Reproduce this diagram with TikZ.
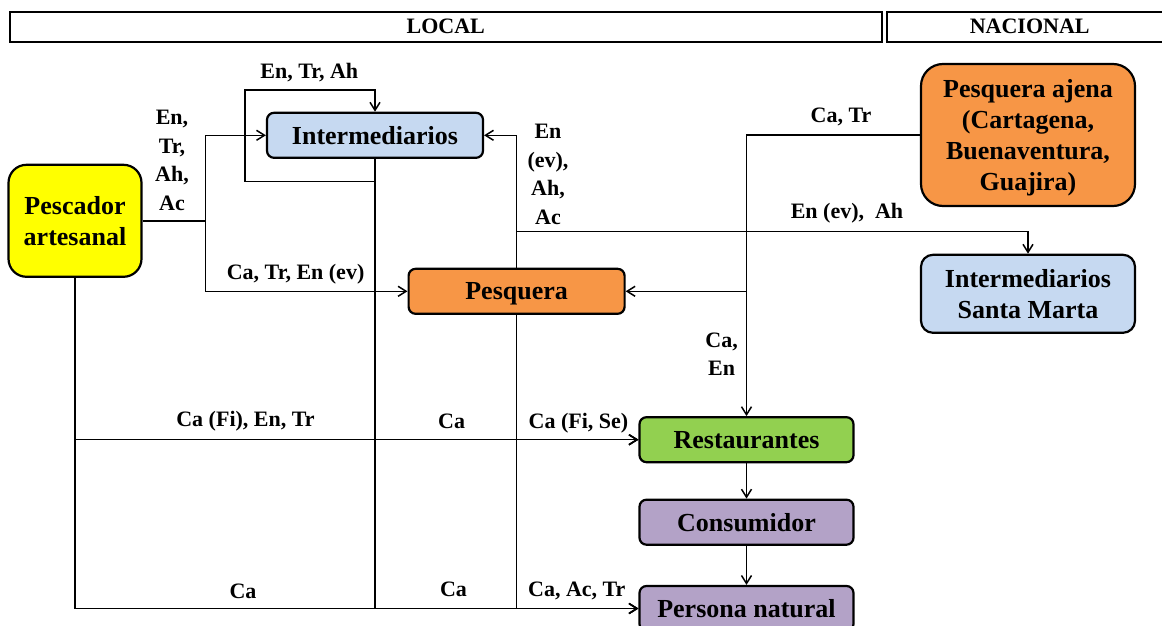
\documentclass[tikz,border=0pt]{standalone}
\usepackage{fontspec}
\setmainfont{Liberation Serif}
\usetikzlibrary{arrows.meta,positioning,calc}
\definecolor{CadAmarillo}{HTML}{FFFF00}
\definecolor{CadAzul}{HTML}{C6D9F1}
\definecolor{CadNaranja}{HTML}{F79646}
\definecolor{CadVerde}{HTML}{92D050}
\definecolor{CadMorado}{HTML}{B3A2C7}

\begin{document}
\begin{tikzpicture}[x=1pt,y=-1pt,
  caja/.style={draw,line width=2.2pt,rounded corners=7pt,minimum width=216pt,minimum height=45pt,
    inner sep=0pt,text depth=0pt,align=center,font=\fontsize{26}{31}\selectfont\bfseries},
  franja/.style={draw,line width=2pt,minimum height=30pt,inner sep=0pt,font=\fontsize{22}{26}\selectfont\bfseries},
  etiq/.style={inner sep=0pt,align=center,font=\fontsize{22}{28.5}\selectfont\bfseries},
  flujo/.style={line width=1.5pt,-{Straight Barb[length=8pt,width=10pt,line width=1.5pt]}},
  linea/.style={line width=1.5pt}]
  \useasboundingbox (0,0) rectangle (1162,626);
  % --- franjas de escala ---
  \node[franja,minimum width=872pt] (local) at (445.8,26.7) {LOCAL};
  \node[franja,minimum width=284.5pt] (nacional) at (1029.7,26.7) {NACIONAL};
  % --- actores ---
  \node[caja,fill=CadAmarillo,minimum width=133pt,minimum height=112pt,rounded corners=18pt] (pesc) at (75,220.8) {Pescador\\artesanal};
  \node[caja,fill=CadAzul] (inter) at (375,135.3) {Intermediarios};
  \node[caja,fill=CadNaranja] (pesq) at (516.6,291.3) {Pesquera};
  \node[caja,fill=CadNaranja,minimum width=214pt,minimum height=142pt,rounded corners=22pt] (paj) at (1028,135) {Pesquera ajena\\(Cartagena,\\Buenaventura,\\Guajira)};
  \node[caja,fill=CadAzul,minimum width=214pt,minimum height=78pt,rounded corners=12pt] (ism) at (1028,293.8) {Intermediarios\\Santa Marta};
  \node[caja,fill=CadVerde,minimum width=214pt] (rest) at (746.5,439.7) {Restaurantes};
  \node[caja,fill=CadMorado,minimum width=214pt] (cons) at (746.5,522.2) {Consumidor};
  \node[caja,fill=CadMorado,minimum width=214pt] (pnat) at (746.5,608.5) {Persona natural};
  % --- puntos de union ---
  \coordinate (j1) at ($(pesc.east)+(63,0)$);
  \coordinate (lz1) at (245,181.7);
  \coordinate (lz2) at (245,90);
  \coordinate (j2) at (pesq.north |- 0,231.7);
  % --- Pescador artesanal ---
  \draw[linea] (pesc.east) -- (j1);
  \draw[flujo] (j1) |- (inter.west);
  \draw[flujo] (j1) |- (pesq.west);
  \draw[flujo] (pesc.south) |- (rest.west);
  \draw[flujo] (pesc.south) |- (pnat.west);
  % --- Intermediarios (lazo y ventas) ---
  \draw[flujo] (inter.south) |- (lz1) -- (lz2) -| (inter.north);
  \draw[flujo] (inter.south) |- (rest.west);
  \draw[flujo] (inter.south) |- (pnat.west);
  % --- Pesquera ---
  \draw[flujo] (pesq.north) |- (inter.east);
  \draw[flujo] (pesq.north) -- (j2) -| (ism.north);
  \draw[flujo] (pesq.south) |- (rest.west);
  \draw[flujo] (pesq.south) |- (pnat.west);
  % --- Pesquera ajena ---
  \draw[flujo] (paj.west) -| (rest.north);
  \draw[flujo] (paj.west) -| (rest.north |- pesq.east) -- (pesq.east);
  % --- cadena final ---
  \draw[flujo] (rest) -- (cons);
  \draw[flujo] (cons) -- (pnat);
  % --- etiquetas de los flujos ---
  \node[etiq] (e1) at (309.3,72.7) {En, Tr, Ah};
  \node[etiq] (e2) at (172,160.5) {En,\\Tr,\\Ah,\\Ac};
  \node[etiq] (e3) at (295.6,274) {Ca, Tr, En (ev)};
  \node[etiq] (e4) at (548,174.5) {En\\(ev),\\Ah,\\Ac};
  \node[etiq] (e5) at (841,116.7) {Ca, Tr};
  \node[etiq] (e6) at (847,213.3) {En (ev),\ \ Ah};
  \node[etiq] (e7) at (721.6,354) {Ca,\\En};
  \node[etiq] (e8) at (245.5,421.7) {Ca (Fi), En, Tr};
  \node[etiq] (e9) at (451.6,421.7) {Ca};
  \node[etiq] (e10) at (578.5,423.3) {Ca (Fi, Se)};
  \node[etiq] (e11) at (243,591.7) {Ca};
  \node[etiq] (e12) at (453.5,589) {Ca};
  \node[etiq] (e13) at (576.8,590.7) {Ca, Ac, Tr};
\end{tikzpicture}
\end{document}
